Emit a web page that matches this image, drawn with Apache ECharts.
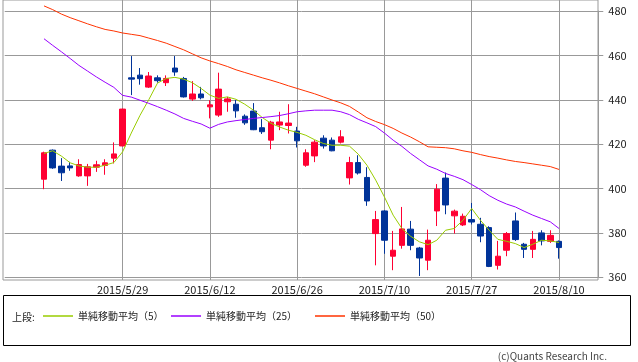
<!DOCTYPE html>
<html><head><meta charset="utf-8">
<script src="https://cdn.jsdelivr.net/npm/echarts@6/dist/echarts.min.js"></script>
<style>html,body{margin:0;padding:0;background:#fff}#c{width:638px;height:362px}</style>
</head><body><div id="c"></div>
<script>
const dates = [
 "2015/5/18","2015/5/19","2015/5/20","2015/5/21","2015/5/22","2015/5/25","2015/5/26","2015/5/27","2015/5/28","2015/5/29",
 "2015/6/1","2015/6/2","2015/6/3","2015/6/4","2015/6/5","2015/6/8","2015/6/9","2015/6/10","2015/6/11","2015/6/12",
 "2015/6/15","2015/6/16","2015/6/17","2015/6/18","2015/6/19","2015/6/22","2015/6/23","2015/6/24","2015/6/25","2015/6/26",
 "2015/6/29","2015/6/30","2015/7/1","2015/7/2","2015/7/3","2015/7/6","2015/7/7","2015/7/8","2015/7/9","2015/7/10",
 "2015/7/13","2015/7/14","2015/7/15","2015/7/16","2015/7/17","2015/7/21","2015/7/22","2015/7/23","2015/7/24","2015/7/27",
 "2015/7/28","2015/7/29","2015/7/30","2015/7/31","2015/8/3","2015/8/4","2015/8/5","2015/8/6","2015/8/7","2015/8/10"
];
// [open, close, low, high]
const candles = [
 [404.2,416.1,399.7,416.6],[417.3,409.3,408.9,417.6],[410.1,407.1,403.4,413.7],[410.2,409.3,408.0,412.0],[405.7,410.8,405.3,413.2],
 [405.7,409.8,401.2,411.1],[409.6,410.7,407.5,412.5],[410.4,411.6,406.2,413.2],[413.7,415.6,411.3,420.8],[419.2,435.8,419.0,436.0],
 [449.9,449.3,442.1,459.7],[451.1,449.5,446.8,454.3],[445.7,450.7,445.3,452.5],[449.9,448.6,447.7,451.0],[447.7,449.6,446.2,451.0],
 [454.3,452.5,450.8,459.7],[449.6,441.3,441.0,450.3],[440.3,442.6,439.5,448.4],[442.6,440.9,440.2,445.8],[436.8,437.7,431.6,439.8],
 [433.1,444.8,432.3,452.2],[439.1,440.4,434.6,441.3],[438.0,435.0,431.9,439.9],[432.6,429.6,428.7,433.4],[434.9,426.5,426.3,438.5],
 [427.4,425.6,424.6,431.3],[421.8,429.9,417.7,430.5],[428.6,430.0,426.3,434.6],[428.4,429.5,424.8,438.0],[425.9,421.5,418.5,427.8],
 [410.5,416.1,409.8,417.7],[414.7,420.9,411.9,421.8],[422.7,419.2,418.0,424.0],[421.8,417.0,416.8,423.0],[420.9,423.3,420.3,426.3],
 [404.8,411.7,401.8,414.3],[411.7,407.0,406.3,415.0],[405.0,394.4,392.2,409.6],[379.7,386.0,365.4,389.9],[389.9,376.7,370.6,390.2],
 [369.5,372.2,363.2,380.9],[374.4,381.8,372.9,391.7],[381.7,374.4,372.2,385.4],[373.2,368.7,360.6,373.7],[367.7,376.7,363.2,381.5],
 [389.9,399.7,383.1,402.0],[404.7,392.6,388.4,407.2],[387.7,389.8,379.7,390.5],[383.6,387.5,383.1,388.7],[386.0,384.9,383.8,393.5],
 [383.9,378.6,375.8,386.8],[382.4,364.9,364.6,383.0],[365.4,369.5,363.5,376.4],[372.2,379.7,369.5,380.4],[385.4,377.0,376.4,389.2],
 [374.9,372.6,368.7,375.5],[372.6,377.1,368.7,380.9],[380.0,376.4,374.4,381.2],[376.2,378.9,375.5,381.2],[376.2,373.4,368.4,376.6]
];
const ma5 = [415.8,417,414.6,411.6,410.2,409.6,409.6,410.5,411.7,416.5,
 425,433,440,447.5,449.6,450.1,449.3,447.7,445.1,442.1,
 440.6,441.3,440.2,438,435.3,432,429.4,427.7,426.3,425.3,
 424,422,420.3,419.5,419.5,419.1,415.5,410.5,403.8,396.2,
 388,382,378.5,376,374.7,376.7,381.2,382,385.7,391,
 385.7,381.2,377.1,376.2,375.2,373.4,374.9,376.7,376.4,375.7];
const ma25 = [467.5,464.5,461.6,458.6,455.5,452.9,450.3,447.9,445.6,442,
 441.2,439.8,438.4,436.9,435.3,433.6,431.6,430.3,429.1,427.2,
 428.9,430,430.6,431.1,431.6,432,432.4,432.9,433.7,434.6,
 435,435.3,435.3,435.3,434.6,433.3,431.2,429.6,427.9,425,
 421.8,419,415.8,413,410.2,408.7,406.8,405.5,404,401.8,
 399.5,396.8,394.7,393,391.7,389.8,388,386.5,385,382];
const ma50 = [482.3,480.6,478.6,477,475.6,474.2,472.9,471.7,471,470.1,
 469.5,468.9,467.8,466.7,465.5,464,462.5,460.7,458.9,457.5,
 456.3,455,453.5,452.3,451.1,449.9,448.8,447.6,446.3,445.1,
 443.9,442.7,441.3,439.9,438.6,437,434.5,431.9,430.2,428.8,
 427.1,425,423.2,421.1,418.8,418.6,418.4,417.9,417,416.3,
 415.3,414.4,413.7,412.9,412.2,411.7,411.1,410.5,409.9,408.6];
const tickDates = ["2015/5/29","2015/6/12","2015/6/26","2015/7/10","2015/7/27","2015/8/10"];
const seriesNames = ["単純移動平均（5）","単純移動平均（25）","単純移動平均（50）"];
const lineColors = ["#99cc00","#9900ff","#ff3300"];
const yMin = 360, yMax = 480, yStep = 20;

const PAD = 4;
const pre = Array.from({length: PAD}, (_, k) => "pre" + k);
const post = Array.from({length: PAD}, (_, k) => "post" + k);
const cats = pre.concat(dates, post);
const tickSet = new Set(tickDates);
const FONT = "'Noto Sans CJK JP','Noto Sans',sans-serif";
const GRID_L = 4.72, GRID_R = 39.72;

const candleData = dates.map((d, i) => [d].concat(candles[i]));
const lineData = arr => dates.map((d, i) => [d, arr[i]]);

const chart = echarts.init(document.getElementById('c'), null, {renderer: 'canvas'});
const legendItem = (i, left) => ({
  show: true, left: left, top: 311, padding: 0, itemWidth: 30, itemHeight: 1.5, icon: 'rect',
  data: [seriesNames[i]], selectedMode: false,
  textStyle: {fontFamily: FONT, fontSize: 10, color: '#222'}
});
chart.setOption({
  animation: false,
  grid: [
    {left: GRID_L, right: GRID_R, top: 11, bottom: 84.7, show: false},
    {left: GRID_L, right: GRID_R, top: 0, bottom: 82, show: false},
    {left: 3, right: 40, top: 0, bottom: 82, show: true, borderColor: '#999', borderWidth: 1, backgroundColor: 'transparent'}
  ],
  xAxis: [
    {type: 'category', gridIndex: 0, data: cats, boundaryGap: true, show: false},
    {type: 'category', gridIndex: 1, data: cats, boundaryGap: true,
     axisLine: {show: false}, axisTick: {show: false},
     splitLine: {show: true, alignWithLabel: true, interval: (idx, v) => tickSet.has(v), lineStyle: {color: '#999', width: 1}},
     axisLabel: {show: true, interval: (idx, v) => tickSet.has(v), margin: 4, color: '#222', fontSize: 11, fontFamily: FONT}},
    {type: 'value', gridIndex: 2, show: false, min: 0, max: 1}
  ],
  yAxis: [
    {type: 'value', gridIndex: 0, position: 'right', min: yMin, max: yMax, interval: yStep,
     axisLine: {show: true, lineStyle: {color: '#999'}},
     axisTick: {show: true, length: 5, lineStyle: {color: '#999'}},
     splitLine: {show: true, lineStyle: {color: '#999', width: 1}},
     axisLabel: {margin: 10, color: '#222', fontSize: 11, fontFamily: FONT}},
    {type: 'value', gridIndex: 1, show: false, min: 0, max: 1},
    {type: 'value', gridIndex: 2, show: false, min: 0, max: 1}
  ],
  legend: [legendItem(0, 43), legendItem(1, 171), legendItem(2, 315)],
  series: [
    {type: 'candlestick', xAxisIndex: 0, yAxisIndex: 0, data: candleData,
     encode: {x: 0, y: [1, 2, 3, 4]}, barWidth: 6,
     itemStyle: {color: '#ff0033', color0: '#003399', borderColor: '#ff0033', borderColor0: '#003399', borderWidth: 1}},
    ...[ma5, ma25, ma50].map((arr, i) => ({
      type: 'line', name: seriesNames[i], xAxisIndex: 0, yAxisIndex: 0, data: lineData(arr),
      symbol: 'none', showSymbol: false, clip: false, smooth: false,
      lineStyle: {color: lineColors[i], width: 1}, itemStyle: {color: lineColors[i]}
    }))
  ],
  graphic: [
    {type: 'rect', shape: {x: 3.5, y: 295.5, width: 627, height: 50}, style: {fill: 'none', stroke: '#000', lineWidth: 1}, silent: true},
    {type: 'text', left: 12, top: 312, style: {text: '上段:', fill: '#222', font: '10px ' + FONT}, silent: true},
    {type: 'text', right: 31, top: 351, style: {text: '(c)Quants Research Inc.', fill: '#444', font: '10px ' + FONT}, silent: true}
  ]
});
</script></body></html>
